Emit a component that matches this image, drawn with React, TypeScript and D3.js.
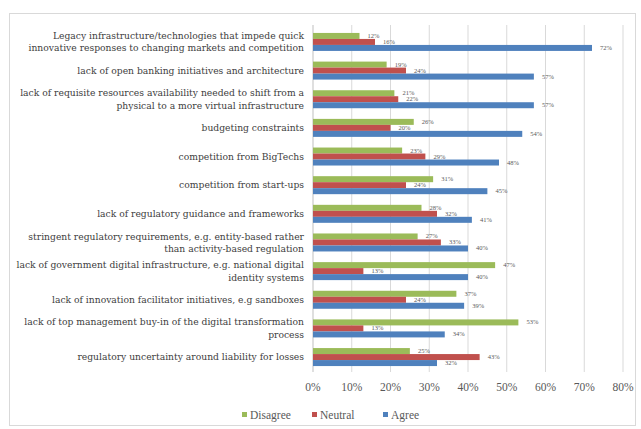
import React from "react";
import * as d3 from "d3";

const categories: string[][] = [
  ["Legacy infrastructure/technologies that impede quick", "innovative responses to changing markets and competition"],
  ["lack of open banking initiatives and architecture"],
  ["lack of requisite resources availability needed to shift from a", "physical to a more virtual infrastructure"],
  ["budgeting constraints"],
  ["competition from BigTechs"],
  ["competition from start-ups"],
  ["lack of regulatory guidance and frameworks"],
  ["stringent regulatory requirements, e.g. entity-based rather", "than activity-based regulation"],
  ["lack of government digital infrastructure, e.g. national digital", "identity systems"],
  ["lack of innovation facilitator initiatives, e.g sandboxes"],
  ["lack of top management buy-in of the digital transformation", "process"],
  ["regulatory uncertainty around liability for losses"],
];

const disagree = [12, 19, 21, 26, 23, 31, 28, 27, 47, 37, 53, 25];
const neutral = [16, 24, 22, 20, 29, 24, 32, 33, 13, 24, 13, 43];
const agree = [72, 57, 57, 54, 48, 45, 41, 40, 40, 39, 34, 32];

const seriesNames = ["Disagree", "Neutral", "Agree"];
const seriesColors = ["#9BBB59", "#C0504D", "#4F81BD"];
const tickValues = [0, 10, 20, 30, 40, 50, 60, 70, 80];

const W = 641;
const H = 429;
const font = "'Liberation Serif', 'Times New Roman', serif";
const catFont = "'DejaVu Serif', serif";

export default function App() {
  const seriesData = [disagree, neutral, agree];
  const idx = categories.map((_, i) => String(i));
  const x = d3.scaleLinear().domain([0, 80]).range([313, 623]);
  const y = d3.scaleBand().domain(idx).range([27.5, 371.5]).paddingInner(0.372).paddingOuter(0.19);
  const inner = d3.scaleBand().domain(seriesNames).range([0, y.bandwidth()]);
  const fmt = (v: number) => `${v}%`;

  return (
    <svg width={W} height={H} style={{ position: "absolute", left: 0, top: 0, background: "#fff" }}>
      <rect x={9.5} y={13.5} width={626} height={412} fill="#fff" stroke="#D9D9D9" />
      {tickValues.map((t) => (
        <line key={t} x1={x(t)} x2={x(t)} y1={25} y2={372} stroke={t === 0 ? "#BFBFBF" : "#D9D9D9"} strokeWidth={1} />
      ))}
      {tickValues.map((t) => (
        <text key={"t" + t} x={x(t)} y={391} textAnchor="middle" fontFamily={font} fontSize={11.5} fill="#595959">
          {fmt(t)}
        </text>
      ))}
      {categories.map((lines, i) => {
        const cy = (y(String(i)) as number) + y.bandwidth() / 2;
        const lh = 12.5;
        const start = cy - ((lines.length - 1) * lh) / 2 + 3.3;
        return (
          <text key={"c" + i} x={304} textAnchor="end" fontFamily={catFont} fontSize={9.2} fill="#404040">
            {lines.map((l, j) => (
              <tspan key={j} x={304} y={start + j * lh}>
                {l}
              </tspan>
            ))}
          </text>
        );
      })}
      {seriesData.map((vals, s) => (
        <g key={"s" + s}>
          {vals.map((v, i) => {
            const by = (y(String(i)) as number) + (inner(seriesNames[s]) as number);
            return (
              <g key={i}>
                <rect x={x(0)} y={by} width={x(v) - x(0)} height={inner.bandwidth()} fill={seriesColors[s]} />
                <text x={x(v) + 8} y={by + inner.bandwidth() / 2 + 2} fontFamily={font} fontSize={6.5} fill="#595959">
                  {fmt(v)}
                </text>
              </g>
            );
          })}
        </g>
      ))}
      {seriesNames.map((n, s) => {
        const lx = [242, 312, 383][s];
        return (
          <g key={"l" + n}>
            <rect x={lx} y={412} width={5} height={5} fill={seriesColors[s]} />
            <text x={lx + 8} y={418.5} fontFamily={font} fontSize={11.5} fill="#595959">
              {n}
            </text>
          </g>
        );
      })}
    </svg>
  );
}
